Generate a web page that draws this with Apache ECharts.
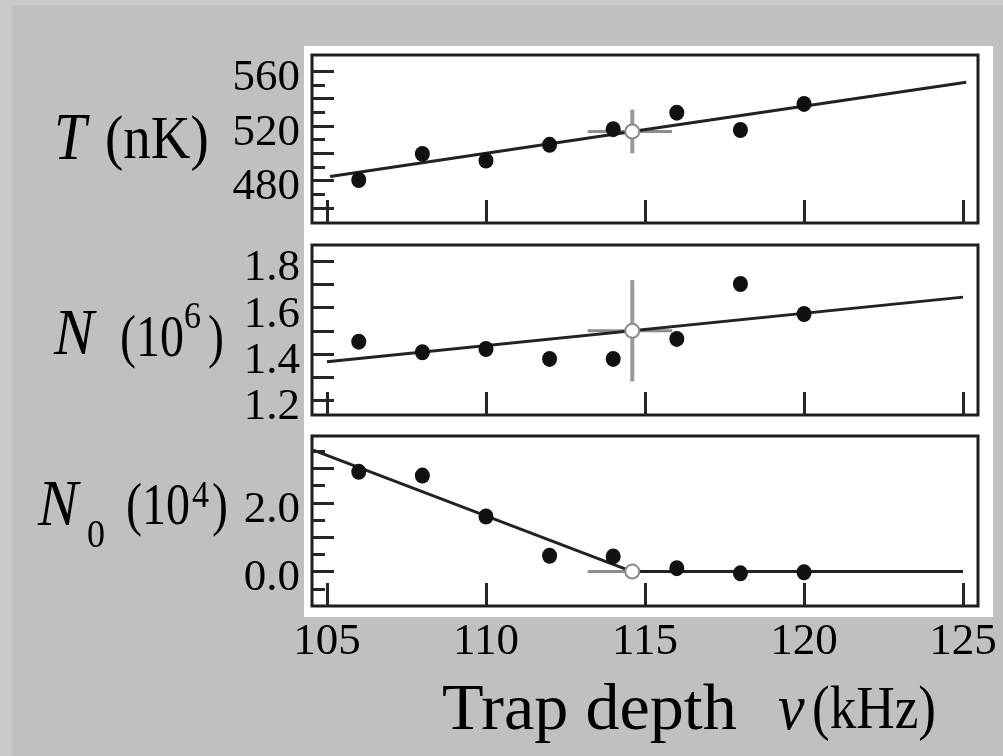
<!DOCTYPE html>
<html>
<head>
<meta charset="utf-8">
<script src="https://cdn.jsdelivr.net/npm/echarts@6/dist/echarts.min.js"></script>
<style>
html,body{margin:0;padding:0;background:#c0c0c0;}
#chart{width:1003px;height:756px;}
</style>
</head>
<body>
<div id="chart"></div>
<script>
// ---- data ----
const nu = [106, 108, 110, 112, 114, 116, 118, 120];          // trap depth (kHz)
const tempT = [480.5, 499.6, 494.7, 506.2, 517.7, 529.8, 517.1, 536.2]; // T (nK)
const atomN = [1.453, 1.407, 1.421, 1.378, 1.378, 1.465, 1.703, 1.573]; // N (10^6)
const condN0 = [2.90, 2.79, 1.60, 0.46, 0.44, 0.10, -0.05, -0.02];      // N0 (10^4)

// critical point (open circle) with error bars
const nuCrit = 114.6;
const nuCritErrLow = 1.4;
const nuCritErrHigh = 1.25;
const critT = 516, critTErr = 16;
const critN = 1.50, critNErr = 0.22;
const critN0 = 0;

// fitted lines
const fitTx = [105.1, 114.6, 125.1];
const fitTy = [483, 516, 552];
const fitNx = [105.0, 125.0];
const fitNy = [1.366, 1.646];
const fitN0x = [104.57, 114.6, 125.0];
const fitN0y = [3.53, 0, 0];

// ticks
const xTicks = [105, 110, 115, 120, 125];
const tMajor = [460, 480, 500, 520, 540, 560];
const tMinor = [470, 490, 510, 530, 550];
const tLabels = [480, 520, 560];
const nMajor = [1.2, 1.3, 1.4, 1.5, 1.6, 1.7, 1.8];
const nLabels = [1.2, 1.4, 1.6, 1.8];
const n0Major = [0, 1, 2, 3];
const n0Minor = [-0.5, 0.5, 1.5, 2.5, 3.5];
const n0Labels = [0, 2];

// ---- layout ----
const FONT = '"Liberation Serif", "Times New Roman", serif';
const gridLeft = 312, gridRight = 1003 - 978;
const panels = [
  {top: 55, height: 168, min: 449, max: 572, major: tMajor, minor: tMinor, labels: tLabels, fmt: v => String(v)},
  {top: 245, height: 170, min: 1.135, max: 1.872, major: nMajor, minor: null, labels: nLabels, fmt: v => v.toFixed(1)},
  {top: 436, height: 170, min: -1.0, max: 3.94, major: n0Major, minor: n0Minor, labels: n0Labels, fmt: v => v.toFixed(1)}
];

const grids = [], xAxes = [], yAxes = [], series = [];
const tickColor = '#262626';
const labelRich = {a: {fontFamily: FONT, fontSize: 45, color: '#000', padding: [14, 0, 0, 0]}};

panels.forEach((p, i) => {
  grids.push({left: gridLeft, right: gridRight, top: p.top, height: p.height, show: true,
    borderColor: '#1e1e1e', borderWidth: 3, backgroundColor: 'transparent'});
  xAxes.push({type: 'value', gridIndex: i, min: 104.53, max: 125.47, position: 'bottom',
    axisLine: {show: false, onZero: false}, splitLine: {show: false},
    axisTick: {show: true, inside: true, length: 23, customValues: xTicks, lineStyle: {color: tickColor, width: 3}},
    axisLabel: {show: i === 2, customValues: xTicks, margin: 14, color: '#000', fontFamily: FONT, fontSize: 45}
  });
  yAxes.push({type: 'value', gridIndex: i, min: p.min, max: p.max, position: 'left',
    axisLine: {show: false, onZero: false}, splitLine: {show: false},
    axisTick: {show: true, inside: true, length: 22, customValues: p.major, lineStyle: {color: tickColor, width: 3}},
    axisLabel: {show: true, customValues: p.labels, margin: 12,
      formatter: v => '{a|' + p.fmt(v) + '}', rich: labelRich}
  });
});
// minor tick axes
panels.forEach((p, i) => {
  if (!p.minor) return;
  yAxes.push({type: 'value', gridIndex: i, min: p.min, max: p.max, position: 'left',
    axisLine: {show: false, onZero: false}, splitLine: {show: false},
    axisTick: {show: true, inside: true, length: 13, customValues: p.minor, lineStyle: {color: tickColor, width: 3}},
    axisLabel: {show: false}
  });
});

const pointSets = [tempT, atomN, condN0];
const crits = [[critT, critTErr], [critN, critNErr], [critN0, 0]];
const fits = [[fitTx, fitTy], [fitNx, fitNy], [fitN0x, fitN0y]];

pointSets.forEach((vals, i) => {
  const [cy, ce] = crits[i];
  const [fx, fy] = fits[i];
  // horizontal error bar
  series.push({type: 'line', xAxisIndex: i, yAxisIndex: i, symbol: 'none', z: 2, silent: true,
    lineStyle: {color: '#8c8c8c', width: 3},
    data: [[nuCrit - nuCritErrLow, cy], [nuCrit + nuCritErrHigh, cy]]});
  if (ce > 0) {
    series.push({type: 'line', xAxisIndex: i, yAxisIndex: i, symbol: 'none', z: 2, silent: true,
      lineStyle: {color: '#9a9a9a', width: 4},
      data: [[nuCrit, cy - ce], [nuCrit, cy + ce]]});
  }
  // fit line
  series.push({type: 'line', xAxisIndex: i, yAxisIndex: i, symbol: 'none', z: 3, silent: true,
    lineStyle: {color: '#222222', width: 3},
    data: fx.map((x, k) => [x, fy[k]])});
  // data points
  series.push({type: 'scatter', xAxisIndex: i, yAxisIndex: i, z: 4, symbol: 'circle', symbolSize: [15, 16],
    itemStyle: {color: '#111111', opacity: 1},
    data: nu.map((x, k) => [x, vals[k]])});
  // critical point
  series.push({type: 'scatter', xAxisIndex: i, yAxisIndex: i, z: 5, symbol: 'circle', symbolSize: 14,
    itemStyle: {color: '#ffffff', borderColor: '#8a8a8a', borderWidth: 2, opacity: 1},
    data: [[nuCrit, cy]]});
});

function txt(text, x, y, size, italic, sy, sx) {
  return {type: 'text', x: x, y: y, z: 10, silent: true, scaleY: sy || 1, scaleX: sx || 1,
    style: {text: text, fill: '#000', font: (italic ? 'italic ' : '') + size + 'px ' + FONT,
      textAlign: 'left', textVerticalAlign: 'middle'}};
}

const graphics = [
  {type: 'rect', z: -10, silent: true, shape: {x: 0, y: 0, width: 12, height: 756}, style: {fill: '#c9c9c9'}},
  {type: 'rect', z: -10, silent: true, shape: {x: 0, y: 0, width: 1003, height: 5}, style: {fill: '#c9c9c9'}},
  {type: 'rect', z: -10, silent: true, shape: {x: 304, y: 46, width: 689, height: 571}, style: {fill: '#ffffff'}},
  // T (nK)
  txt('T', 54, 141, 58, true, 1.15),
  txt('(nK)', 105, 142, 55, false, 1.1),
  // N (10^6)
  txt('N', 54, 337, 60, true, 1.1),
  txt('(10', 120, 340, 48, false, 1.25),
  txt('6', 184, 318, 34, false, 1.1),
  txt(')', 208, 340, 48, false, 1.25),
  // N0 (10^4)
  txt('N', 38, 508, 60, true, 1.1),
  txt('0', 87, 537, 36, false, 1.1),
  txt('(10', 126, 508, 48, false, 1.25),
  txt('4', 192, 497, 34, false, 1.1),
  txt(')', 212, 508, 48, false, 1.25),
  // x title
  txt('Trap depth', 442, 712, 62, false, 1.05, 1.1),
  txt('ν', 778, 712, 60, true, 1.1),
  txt('(kHz)', 812, 712, 56, false, 1.1, 0.95)
];

const chart = echarts.init(document.getElementById('chart'), null, {renderer: 'canvas'});
chart.setOption({
  backgroundColor: '#c0c0c0',
  animation: false,
  grid: grids,
  xAxis: xAxes,
  yAxis: yAxes,
  series: series,
  graphic: graphics
});
</script>
</body>
</html>
